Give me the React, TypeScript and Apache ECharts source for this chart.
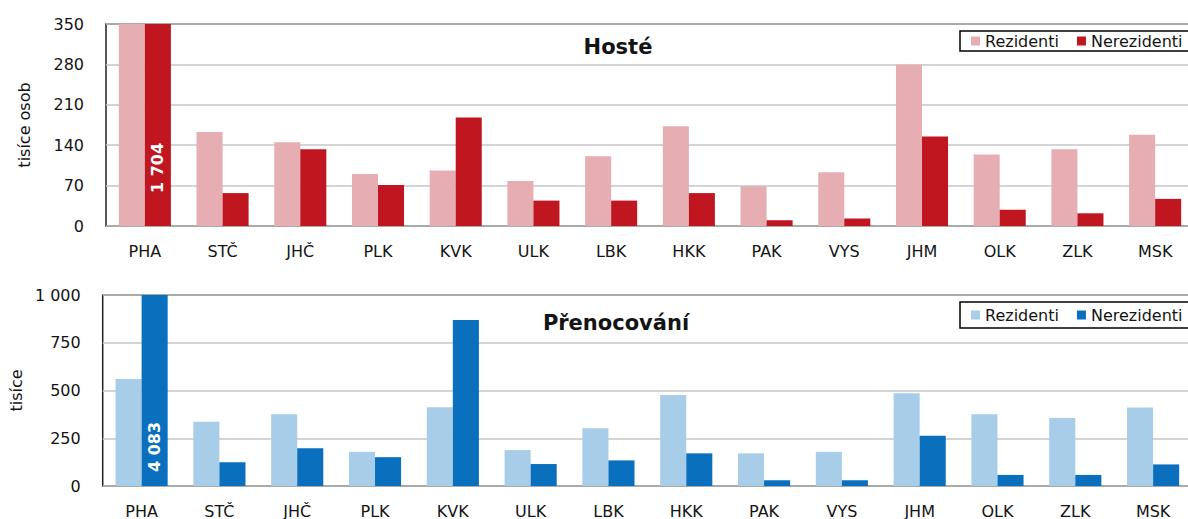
import React, { useEffect, useRef } from 'react';
import * as echarts from 'echarts';

const categories = ['PHA', 'STČ', 'JHČ', 'PLK', 'KVK', 'ULK', 'LBK', 'HKK', 'PAK', 'VYS', 'JHM', 'OLK', 'ZLK', 'MSK'];
const hosteRezidenti = [362, 163, 145, 90, 96, 78, 121, 173, 69, 93, 280, 124, 133, 158];
const hosteNerezidenti = [1704, 57, 133, 71, 188, 44, 44, 57, 10, 13, 155, 28, 22, 47];
const prenocRezidenti = [560, 337, 376, 179, 412, 188, 302, 476, 171, 179, 486, 376, 356, 411];
const prenocNerezidenti = [4083, 124, 198, 151, 869, 115, 134, 171, 30, 30, 263, 58, 58, 113];
const seriesNames = ['Rezidenti', 'Nerezidenti'];
const titles = ['Hosté', 'Přenocování'];
const axisNames = ['tisíce osob', 'tisíce'];

const fmt = (v: number) => String(v).replace(/\B(?=(\d{3})+(?!\d))/g, ' ');

const FONT = 'DejaVu Sans';
const TXT = '#141414';
const C = { rezTop: '#e6adb2', nerTop: '#bf1620', rezBot: '#a7cde9', nerBot: '#0a6fbd' };

function labeled(values: number[], distance: number) {
  return values.map((v, i) =>
    i === 0
      ? {
          value: v,
          label: {
            show: true,
            position: 'insideBottom',
            rotate: 90,
            align: 'left',
            verticalAlign: 'middle',
            distance,
            color: '#fff',
            fontWeight: 'bold',
            fontSize: 16,
            fontFamily: FONT,
            formatter: (p: any) => fmt(p.value),
          },
        }
      : v
  );
}

export default function App() {
  const ref = useRef<HTMLDivElement>(null);
  useEffect(() => {
    const chart = echarts.init(ref.current!, null, { renderer: 'svg' });
    const axisLabel = { color: TXT, fontSize: 16, fontFamily: FONT };
    const option: any = {
      animation: false,
      backgroundColor: '#fff',
      textStyle: { fontFamily: FONT },
      title: [
        { text: titles[0], left: 613, top: 31, textAlign: 'center', textStyle: { fontSize: 21, fontWeight: 'bold', color: TXT, fontFamily: FONT } },
        { text: titles[1], left: 611, top: 307, textAlign: 'center', textStyle: { fontSize: 21, fontWeight: 'bold', color: TXT, fontFamily: FONT } },
      ],
      legend: [
        {
          left: 960, top: 31, itemWidth: 9, itemHeight: 9, itemGap: 18,
          padding: [2, 8, 2, 11], borderColor: '#000', borderWidth: 1.5, backgroundColor: '#fff',
          icon: 'rect', textStyle: { fontSize: 16, color: TXT, fontFamily: FONT },
          data: [
            { name: seriesNames[0], itemStyle: { color: C.rezTop } },
            { name: seriesNames[1], itemStyle: { color: C.nerTop } },
          ],
        },
        {
          left: 960, top: 302, itemWidth: 9, itemHeight: 9, itemGap: 18,
          padding: [5, 8, 5, 11], borderColor: '#000', borderWidth: 1.5, backgroundColor: '#fff',
          icon: 'rect', textStyle: { fontSize: 16, color: TXT, fontFamily: FONT },
          data: [
            { name: seriesNames[0], itemStyle: { color: C.rezBot } },
            { name: seriesNames[1], itemStyle: { color: C.nerBot } },
          ],
        },
      ],
      grid: [
        { left: 106, right: 2, top: 24, height: 202, show: true, borderColor: '#222', borderWidth: 1.5 },
        { left: 102, right: 4, top: 295, height: 191, show: true, borderColor: '#222', borderWidth: 1.5 },
      ],
      xAxis: [0, 1].map((g) => ({
        type: 'category', gridIndex: g, data: categories,
        axisTick: { show: false }, axisLine: { show: false },
        axisLabel: { ...axisLabel, margin: 17 },
      })),
      yAxis: [
        {
          type: 'value', gridIndex: 0, min: 0, max: 350, interval: 70,
          name: axisNames[0], nameLocation: 'middle', nameGap: 74, nameRotate: 90,
          nameTextStyle: { fontSize: 16, color: TXT, fontFamily: FONT },
          axisLine: { show: false }, axisTick: { show: false },
          axisLabel: { ...axisLabel, margin: 22, formatter: (v: number) => fmt(v) },
          splitLine: { lineStyle: { color: '#c6c6c6', width: 1.5 } },
        },
        {
          type: 'value', gridIndex: 1, min: 0, max: 1000, interval: 250,
          name: axisNames[1], nameLocation: 'middle', nameGap: 71, nameRotate: 90,
          nameTextStyle: { fontSize: 16, color: TXT, fontFamily: FONT },
          axisLine: { show: false }, axisTick: { show: false },
          axisLabel: { ...axisLabel, margin: 22, formatter: (v: number) => fmt(v) },
          splitLine: { lineStyle: { color: '#c6c6c6', width: 1.5 } },
        },
      ],
      series: [
        { name: seriesNames[0], type: 'bar', xAxisIndex: 0, yAxisIndex: 0, data: hosteRezidenti, itemStyle: { color: C.rezTop }, barGap: '0%', barCategoryGap: '33%', clip: true },
        { name: seriesNames[1], type: 'bar', xAxisIndex: 0, yAxisIndex: 0, data: labeled(hosteNerezidenti, 33), itemStyle: { color: C.nerTop }, barGap: '0%', barCategoryGap: '33%', clip: true },
        { name: seriesNames[0], type: 'bar', xAxisIndex: 1, yAxisIndex: 1, data: prenocRezidenti, itemStyle: { color: C.rezBot }, barGap: '0%', barCategoryGap: '33%', clip: true },
        { name: seriesNames[1], type: 'bar', xAxisIndex: 1, yAxisIndex: 1, data: labeled(prenocNerezidenti, 14), itemStyle: { color: C.nerBot }, barGap: '0%', barCategoryGap: '33%', clip: true },
      ],
    };
    chart.setOption(option);
    return () => chart.dispose();
  }, []);
  return (
    <div style={{ position: 'absolute', left: 0, top: 0, width: 1188, height: 519, overflow: 'hidden', background: '#fff' }}>
      <div ref={ref} style={{ width: 1196, height: 519 }} />
    </div>
  );
}
